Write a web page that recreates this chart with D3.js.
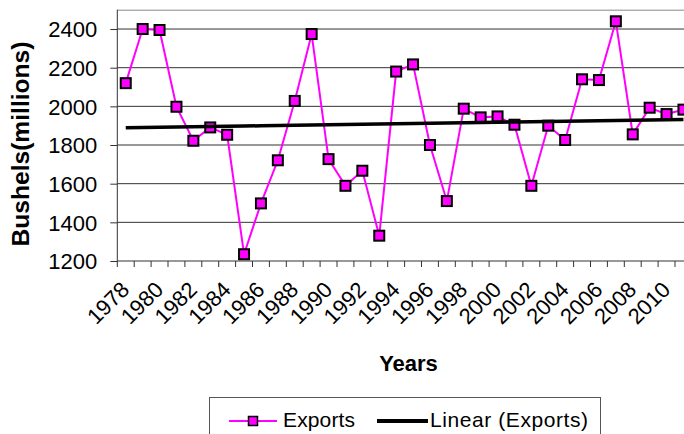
<!DOCTYPE html>
<html>
<head>
<meta charset="utf-8">
<script src="https://cdnjs.cloudflare.com/ajax/libs/d3/7.8.5/d3.min.js"></script>
<style>
  body { margin: 0; background: #fff; }
  svg { display: block; font-family: Arial, "Liberation Sans", sans-serif; }
</style>
</head>
<body>
<svg width="684" height="434"></svg>
<script>
// Categories (years) and the series
const years = [1978, 1979, 1980, 1981, 1982, 1983, 1984, 1985, 1986, 1987, 1988, 1989,
    1990, 1991, 1992, 1993, 1994, 1995, 1996, 1997, 1998, 1999, 2000, 2001,
    2002, 2003, 2004, 2005, 2006, 2007, 2008, 2009, 2010, 2011];
const exports = [2120, 2400, 2395, 1998, 1822, 1891, 1853, 1235, 1498, 1721, 2028, 2374,
    1727, 1589, 1667, 1331, 2180, 2217, 1800, 1510, 1988, 1943, 1948, 1905,
    1589, 1900, 1826, 2140, 2136, 2440, 1855, 1993, 1960, 1983];
const yTicks = [1200, 1400, 1600, 1800, 2000, 2200, 2400];
const xLabels = years.filter(y => y % 2 === 0 && y <= 2010);

main = () => {
    let svg = d3.select('svg');

    // plot area (right side runs off the picture, like the original)
    let left = 117.3, top = 9.7, bottom = 261;
    let right = left + 16.9 * years.length;

    /********************** SCALES ********************************** */
    let xScale = d3.scaleBand()
        .domain(years)
        .range([left, right]);
    let yScale = d3.scaleLinear()
        .domain([1200, 2500])
        .range([bottom, top]);
    let cx = d => xScale(d) + xScale.bandwidth() / 2;

    // gridlines
    svg.selectAll('line.grid')
        .data(yTicks.slice(1))
        .enter()
        .append('line')
            .attr('class', 'grid')
            .attr('x1', left).attr('x2', 684)
            .attr('y1', d => yScale(d)).attr('y2', d => yScale(d))
            .style('stroke', '#333')
            .style('stroke-width', 1);

    // top border of the plot area
    svg.append('line')
        .attr('x1', left).attr('x2', 684)
        .attr('y1', top + 0.5).attr('y2', top + 0.5)
        .style('stroke', '#888');

    /********************** AXES ********************************** */
    let yAxis = d3.axisLeft(yScale)
        .tickValues(yTicks)
        .tickFormat(d3.format('d'))
        .tickSize(7)
        .tickPadding(13);
    let gy = svg.append('g')
        .attr('transform', `translate(${left},0)`)
        .call(yAxis);
    gy.select('.domain').remove();
    gy.append('line')
        .attr('y1', top).attr('y2', bottom)
        .style('stroke', '#333');
    gy.selectAll('.tick line').style('stroke', '#333');
    gy.selectAll('.tick text')
        .style('font-size', '22px')
        .style('font-family', 'Arial, "Liberation Sans", sans-serif')
        .attr('fill', '#000')
        .attr('dy', '0.36em');

    // x axis: ticks between categories, labels every other year
    let gx = svg.append('g');
    gx.append('line')
        .attr('x1', left).attr('x2', 684)
        .attr('y1', bottom).attr('y2', bottom)
        .style('stroke', '#333');
    gx.selectAll('line.xt')
        .data(years.concat([null]))
        .enter()
        .append('line')
            .attr('class', 'xt')
            .attr('x1', (d, i) => i < years.length ? xScale(d) : right)
            .attr('x2', (d, i) => i < years.length ? xScale(d) : right)
            .attr('y1', bottom).attr('y2', bottom + 6)
            .style('stroke', '#333');
    gx.selectAll('text')
        .data(xLabels)
        .enter()
        .append('text')
            .attr('transform', d => `translate(${cx(d) + 5},${bottom + 30}) rotate(-45)`)
            .attr('text-anchor', 'end')
            .style('font-size', '22px')
            .text(d => d);

    /********************** SERIES ********************************** */
    let line = d3.line()
        .x((d, i) => cx(years[i]))
        .y(d => yScale(d));

    svg.append('path')
        .datum(exports)
        .attr('d', line)
        .style('fill', 'none')
        .style('stroke', '#ff00ff')
        .style('stroke-width', 2);

    // linear trend (least squares over category index)
    let n = exports.length;
    let xs = d3.range(1, n + 1);
    let mx = d3.mean(xs), my = d3.mean(exports);
    let slope = d3.sum(xs, (x, i) => (x - mx) * (exports[i] - my)) / d3.sum(xs, x => (x - mx) ** 2);
    let icpt = my - slope * mx;
    let trend = xs.map(x => icpt + slope * x);

    svg.selectAll('rect.dot')
        .data(exports)
        .enter()
        .append('rect')
            .attr('class', 'dot')
            .attr('x', (d, i) => cx(years[i]) - 5)
            .attr('y', d => yScale(d) - 5)
            .attr('width', 10).attr('height', 10)
            .style('fill', '#ff00ff')
            .style('stroke', '#000')
            .style('stroke-width', 2);

    svg.append('path')
        .datum(trend)
        .attr('d', line)
        .style('fill', 'none')
        .style('stroke', '#000')
        .style('stroke-width', 3.5);

    /********************** TITLES ********************************** */
    svg.append('text')
        .attr('transform', 'translate(28.5,144) rotate(-90)')
        .attr('text-anchor', 'middle')
        .attr('textLength', 205)
        .attr('lengthAdjust', 'spacingAndGlyphs')
        .style('font-size', '23px')
        .style('font-weight', 'bold')
        .text('Bushels(millions)');

    svg.append('text')
        .attr('x', 408.5).attr('y', 371)
        .attr('text-anchor', 'middle')
        .style('font-size', '22px')
        .style('font-weight', 'bold')
        .text('Years');

    /********************** LEGEND ********************************** */
    let lg = svg.append('g');
    lg.append('rect')
        .attr('x', 209.5).attr('y', 397.5)
        .attr('width', 391).attr('height', 60)
        .style('fill', '#fff')
        .style('stroke', '#555');
    lg.append('line')
        .attr('x1', 229).attr('x2', 277).attr('y1', 421).attr('y2', 421)
        .style('stroke', '#ff00ff').style('stroke-width', 2);
    lg.append('rect')
        .attr('x', 248.5).attr('y', 416.5).attr('width', 9).attr('height', 9)
        .style('fill', '#ff00ff').style('stroke', '#000').style('stroke-width', 1.5);
    lg.append('text')
        .attr('x', 283).attr('y', 426.5)
        .attr('textLength', 72)
        .style('font-size', '21px')
        .text('Exports');
    lg.append('line')
        .attr('x1', 377).attr('x2', 428).attr('y1', 421).attr('y2', 421)
        .style('stroke', '#000').style('stroke-width', 4);
    lg.append('text')
        .attr('x', 430).attr('y', 426.5)
        .attr('textLength', 158)
        .style('font-size', '21px')
        .text('Linear (Exports)');
}

main();
</script>
</body>
</html>
